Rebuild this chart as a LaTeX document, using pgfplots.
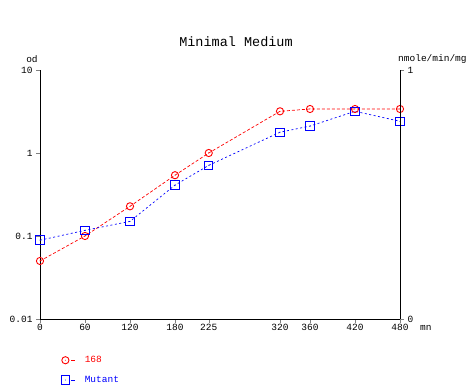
\documentclass[border=0pt]{standalone}
\usepackage{pgfplots}
\pgfplotsset{compat=1.18}
\usepackage{fontspec}
\setmainfont{Liberation Mono}
\pgfdeclareplotmark{odot}{%
  \pgfpathcircle{\pgfpointorigin}{\pgfplotmarksize}\pgfusepathqstroke
  \pgfpathcircle{\pgfpointorigin}{0.5pt}\pgfusepathqfill}
\pgfdeclareplotmark{sqdot}{%
  \pgfpathrectangle{\pgfpoint{-\pgfplotmarksize}{-\pgfplotmarksize}}{\pgfpoint{2\pgfplotmarksize}{2\pgfplotmarksize}}\pgfusepathqstroke
  \pgfpathcircle{\pgfpointorigin}{0.5pt}\pgfusepathqfill}
\begin{document}
\begin{tikzpicture}[font=\fontsize{9.5}{11}\selectfont]
\useasboundingbox (0,0) rectangle (472pt,385pt);
\begin{axis}[
  scale only axis, width=360pt, height=249pt,
  at={(40pt,66pt)}, anchor=south west,
  xmin=0, xmax=480, ymode=log, ymin=0.01, ymax=10,
  axis x line*=bottom, axis y line*=left,
  tick align=outside, major tick length=4pt,
  xtick={0,60,120,180,225,320,360,420,480},
  ytick={0.01,0.1,1,10}, yticklabels={0.01,0.1,1,10},
  yminorticks=false,
  /pgf/number format/assume math mode=true,
  ticklabel style={font=\fontsize{9.5}{11}\selectfont},
  xticklabel style={inner sep=1pt},
  clip=false,
  legend style={at={(rel axis cs:0.05,-0.133)}, anchor=north west, draw=none, fill=none, row sep=8pt, column sep=7pt, font=\fontsize{9.5}{11}\selectfont},
  legend cell align=left,
  legend image code/.code={%
    \draw[#1,only marks] plot coordinates {(0pt,0pt)};
    \draw[#1,solid,mark=none] (6pt,0pt)--(10pt,0pt);},
]
\addplot[color=red, line width=0.7pt, dash pattern=on 3pt off 2pt, mark=odot, mark size=3.6pt, mark options={solid, line width=0.9pt}]
 coordinates {(0,0.05)(60,0.1)(120,0.228)(180,0.54)(225,1.0)(320,3.18)(360,3.39)(420,3.39)(480,3.39)};
\addlegendentry{\textcolor{red}{168}}
\addplot[color=blue, line width=0.7pt, dash pattern=on 2pt off 2.5pt, mark=sqdot, mark size=4.2pt, mark options={solid, line width=1pt, draw=blue, fill=blue}]
 coordinates {(0,0.089)(60,0.117)(120,0.15)(180,0.41)(225,0.71)(320,1.78)(360,2.11)(420,3.18)(480,2.41)};
\addlegendentry{\textcolor{blue}{Mutant}}
\end{axis}
\begin{axis}[
  scale only axis, width=360pt, height=249pt,
  at={(40pt,66pt)}, anchor=south west,
  xmin=0, xmax=480, ymin=0, ymax=1,
  axis x line=none, axis y line*=right,
  tick align=outside, major tick length=4pt,
  ytick={0,1},
  /pgf/number format/assume math mode=true,
  ticklabel style={font=\fontsize{9.5}{11}\selectfont},
]
\end{axis}
\node[font=\fontsize{13.5}{15}\selectfont] at (236pt,343pt) {Minimal Medium};
\node at (32pt,326pt) {od};
\node[anchor=west, inner sep=0pt] at (398pt,326pt) {nmole/min/mg};
\node[anchor=west, inner sep=0pt] at (420pt,57pt) {mn};
\end{tikzpicture}
\end{document}
